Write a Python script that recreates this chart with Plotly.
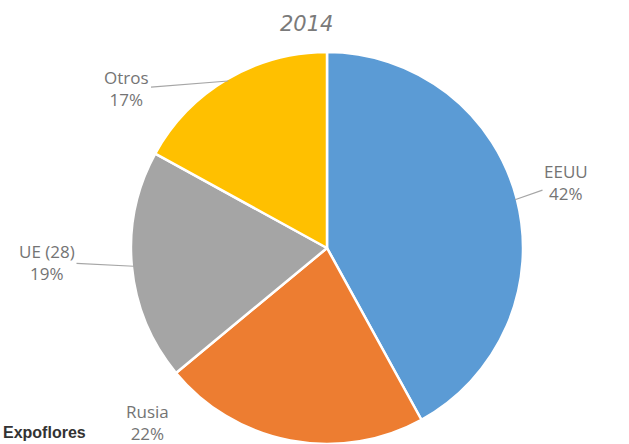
import math
import plotly.graph_objects as go

# Market share by destination, 2014
labels = ["EEUU", "Rusia", "UE (28)", "Otros"]
values = [42, 22, 19, 17]
colors = ["#5B9BD5", "#ED7D31", "#A5A5A5", "#FFC000"]
title_text = "2014"
source_text = "Expoflores"

W, H = 629, 444
cx, cy, r = 327, 248, 196  # pie centre and radius, pixels

# label centre positions (pixels) and whether a leader line is drawn
label_pos = {
    "EEUU": (566, 182, True),
    "Rusia": (147, 422, False),
    "UE (28)": (47, 262, True),
    "Otros": (127, 89, True),
}

label_font = dict(family="Open Sans", size=17, color="#747474")

fig = go.Figure(
    go.Pie(
        labels=labels,
        values=values,
        sort=False,
        direction="clockwise",
        rotation=0,
        marker=dict(colors=colors, line=dict(color="white", width=2.5)),
        textinfo="none",
        hoverinfo="label+percent",
        showlegend=False,
        domain=dict(
            x=[(cx - r) / W, (cx + r) / W],
            y=[max(0, (H - cy - r) / H), (H - cy + r) / H],
        ),
    )
)

total = sum(values)
cum = 0
annotations = []
for lab, val in zip(labels, values):
    mid = (cum + val / 2) / total * 2 * math.pi
    cum += val
    tx = cx + r * 0.99 * math.sin(mid)
    ty = cy - r * 0.99 * math.cos(mid)
    lx, ly, leader = label_pos[lab]
    pct = round(val / total * 100)
    text = f"{lab}<br>{pct}%"
    if leader:
        annotations.append(dict(
            x=tx / W, y=(H - ty) / H, xref="paper", yref="paper",
            ax=lx - tx, ay=ly - ty, axref="pixel", ayref="pixel",
            text=text, showarrow=True, arrowhead=0, arrowwidth=1.2,
            arrowcolor="#A6A6A6", standoff=0, startstandoff=0,
            font=label_font, align="center",
        ))
    else:
        annotations.append(dict(
            x=lx / W, y=(H - ly) / H, xref="paper", yref="paper",
            xanchor="center", yanchor="middle",
            text=text, showarrow=False, font=label_font, align="center",
        ))

# chart title
annotations.append(dict(
    x=306 / W, y=(H - 24) / H, xref="paper", yref="paper",
    xanchor="center", yanchor="middle",
    text=f"<i>{title_text}</i>", showarrow=False,
    font=dict(family="DejaVu Sans", size=21, color="#7A7A7A"),
))

# source credit in the bottom-left corner
annotations.append(dict(
    x=1 / W, y=(H - 432) / H, xref="paper", yref="paper",
    xanchor="left", yanchor="middle",
    text=f"<b>{source_text}</b>", showarrow=False,
    font=dict(family="Liberation Sans", size=16, color="#333333"),
))

fig.update_layout(
    width=W, height=H,
    margin=dict(l=0, r=0, t=0, b=0),
    paper_bgcolor="white",
    plot_bgcolor="white",
    annotations=annotations,
)

fig.write_html("out.html")
